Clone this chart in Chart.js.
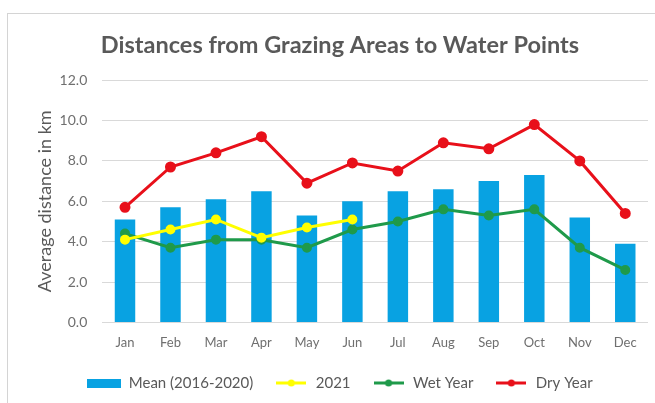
<!DOCTYPE html>
<html>
<head>
<meta charset="utf-8">
<script src="https://cdn.jsdelivr.net/npm/chart.js@4"></script>
<style>
  html, body { margin: 0; padding: 0; background: #fff; }
  #wrap { position: relative; width: 655px; height: 403px; }
  #frame { position: absolute; left: 7px; top: 13px; right: -2px; bottom: -2px;
           border-left: 1px solid #d4d4d4; border-top: 1px solid #d4d4d4; }
  canvas { position: absolute; left: 0; top: 0; }
</style>
</head>
<body>
<div id="wrap">
  <div id="frame"></div>
  <canvas id="chart" width="655" height="403"></canvas>
</div>
<script>
// data
const months = ['Jan', 'Feb', 'Mar', 'Apr', 'May', 'Jun', 'Jul', 'Aug', 'Sep', 'Oct', 'Nov', 'Dec'];
const meanValues = [5.1, 5.7, 6.1, 6.5, 5.3, 6.0, 6.5, 6.6, 7.0, 7.3, 5.2, 3.9];
const values2021 = [4.1, 4.6, 5.1, 4.2, 4.7, 5.1, null, null, null, null, null, null];
const wetYear = [4.4, 3.7, 4.1, 4.1, 3.7, 4.6, 5.0, 5.6, 5.3, 5.6, 3.7, 2.6];
const dryYear = [5.7, 7.7, 8.4, 9.2, 6.9, 7.9, 7.5, 8.9, 8.6, 9.8, 8.0, 5.4];
const yTicks = [0, 2, 4, 6, 8, 10, 12];

const BLUE = '#08a2e2';
const YELLOW = '#ffff00';
const GREEN = '#1f9a4a';
const RED = '#e8101a';

// little legend symbols, Excel style
function lineIcon(color) {
    const c = document.createElement('canvas');
    c.width = 30; c.height = 10;
    const g = c.getContext('2d');
    g.strokeStyle = color; g.lineWidth = 3;
    g.beginPath(); g.moveTo(0, 5); g.lineTo(30, 5); g.stroke();
    g.fillStyle = color;
    g.beginPath(); g.arc(15, 5, 3.5, 0, Math.PI * 2); g.fill();
    return c;
}
function boxIcon(color) {
    const c = document.createElement('canvas');
    c.width = 34; c.height = 9;
    const g = c.getContext('2d');
    g.fillStyle = color; g.fillRect(0, 0, 34, 9);
    return c;
}

const icons = [boxIcon(BLUE), lineIcon(YELLOW), lineIcon(GREEN), lineIcon(RED)];

new Chart(document.getElementById('chart'), {
    data: {
        labels: months,
        datasets: [
            {
                type: 'bar',
                label: 'Mean (2016-2020)',
                data: meanValues,
                backgroundColor: BLUE,
                barPercentage: 0.45,
                categoryPercentage: 1,
                order: 2
            },
            {
                type: 'line',
                label: '2021',
                data: values2021,
                borderColor: YELLOW,
                backgroundColor: YELLOW,
                borderWidth: 3,
                pointRadius: 3.5,
                pointHoverRadius: 3.5,
                spanGaps: false,
                order: 1
            },
            {
                type: 'line',
                label: 'Wet Year',
                data: wetYear,
                borderColor: GREEN,
                backgroundColor: GREEN,
                borderWidth: 3,
                pointRadius: 3.5,
                pointHoverRadius: 3.5,
                order: 1
            },
            {
                type: 'line',
                label: 'Dry Year',
                data: dryYear,
                borderColor: RED,
                backgroundColor: RED,
                borderWidth: 3,
                pointRadius: 4,
                pointHoverRadius: 4,
                order: 0
            }
        ]
    },
    options: {
        responsive: false,
        animation: false,
        layout: {padding: {left: 30, right: 5, top: 0, bottom: 2.5}},
        plugins: {
            tooltip: {enabled: false},
            title: {
                display: true,
                text: 'Distances from Grazing Areas to Water Points',
                color: '#595959',
                font: {family: 'Lato', size: 23.5, weight: 'bold'},
                padding: {top: 31, bottom: 21}
            },
            legend: {
                position: 'bottom',
                labels: {
                    usePointStyle: true,
                    pointStyleWidth: 34,
                    color: '#595959',
                    font: {family: 'Lato', size: 15},
                    padding: 21,
                    sort: (a, b) => a.datasetIndex - b.datasetIndex,
                    generateLabels: function(chart) {
                        return chart.data.datasets.map((ds, i) => ({
                            text: ds.label,
                            fillStyle: ds.backgroundColor,
                            strokeStyle: ds.borderColor,
                            lineWidth: 0,
                            pointStyle: icons[i],
                            datasetIndex: i,
                            hidden: false,
                            fontColor: '#595959'
                        }));
                    }
                }
            }
        },
        scales: {
            x: {
                grid: {display: false, drawTicks: false},
                border: {display: false},
                ticks: {color: '#6f6f6f', font: {family: 'Lato', size: 13}, padding: 13},
                afterFit: s => { s.height -= 9.5; }
            },
            y: {
                min: 0,
                max: 12,
                afterBuildTicks: axis => { axis.ticks = yTicks.map(v => ({value: v})); },
                afterFit: s => { s.width -= 15; },
                grid: {color: '#d9d9d9', lineWidth: 1, drawTicks: false},
                border: {display: false},
                ticks: {
                    color: '#6f6f6f',
                    font: {family: 'Lato', size: 14},
                    padding: 15,
                    callback: v => v.toFixed(1)
                },
                title: {
                    display: true,
                    text: 'Average distance in km',
                    color: '#595959',
                    font: {family: 'Lato', size: 18},
                    padding: {top: 4, bottom: 4}
                }
            }
        }
    }
});
</script>
</body>
</html>
